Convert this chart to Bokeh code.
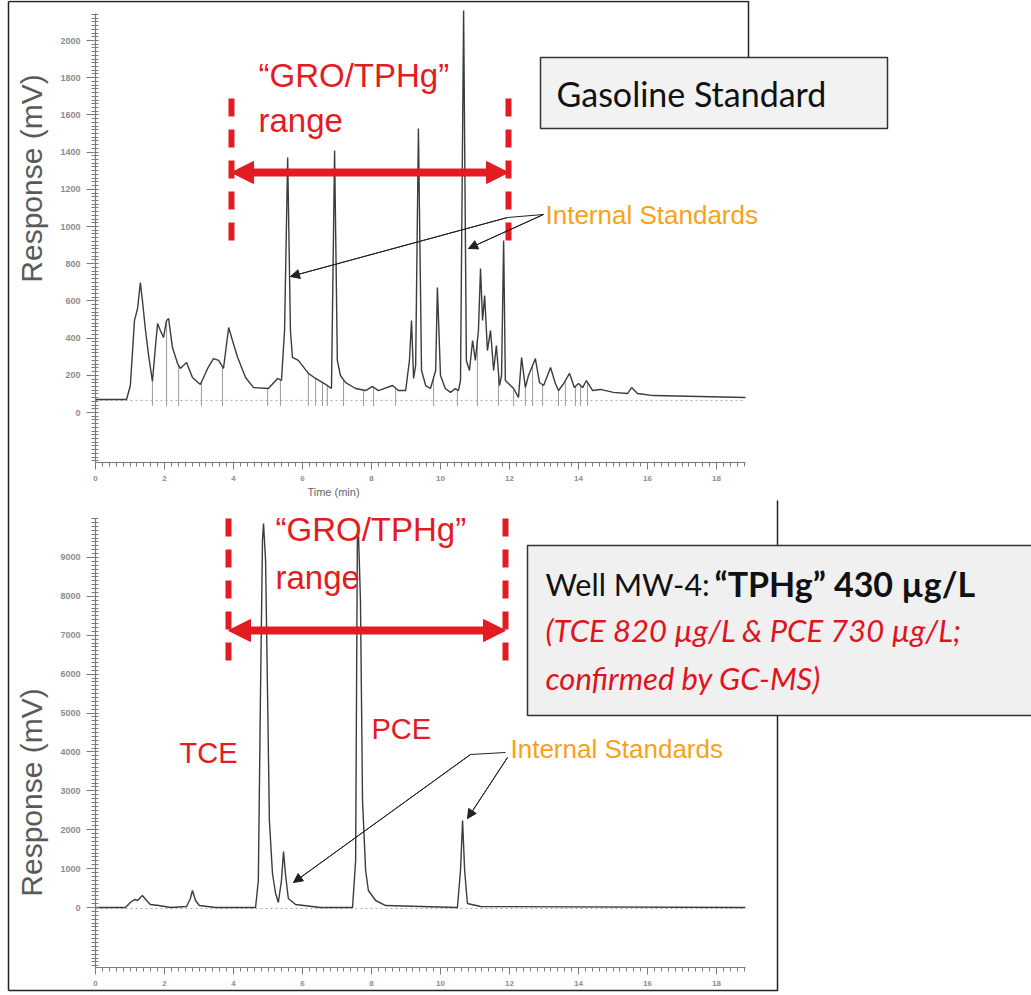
import numpy as np
from bokeh.plotting import figure
from bokeh.models import Range1d, LinearAxis, FixedTicker, Label, Arrow, NormalHead
from bokeh.embed import file_html
from bokeh.resources import INLINE

# ---------------- data ----------------
# Gasoline standard chromatogram: retention time (min) / response (mV)
gas_time = [0.00, 0.90, 1.01, 1.13, 1.22, 1.30, 1.36, 1.45, 1.54, 1.65, 1.74, 1.80, 1.88, 1.97, 2.06, 2.12,
            2.23, 2.38, 2.46, 2.64, 2.81, 3.04, 3.25, 3.42, 3.57, 3.71, 3.86, 3.97, 4.12, 4.35, 4.58, 5.01,
            5.28, 5.39, 5.48, 5.57, 5.65, 5.71, 5.88, 6.17, 6.38, 6.67, 6.84, 6.93, 7.01, 7.10, 7.25, 7.54,
            7.83, 8.03, 8.20, 8.61, 8.78, 8.99, 9.10, 9.16, 9.22, 9.28, 9.36, 9.45, 9.57, 9.71, 9.86, 9.91,
            10.00, 10.14, 10.29, 10.43, 10.52, 10.58, 10.67, 10.75, 10.84, 10.93, 11.01, 11.10, 11.16, 11.22,
            11.28, 11.36, 11.45, 11.54, 11.62, 11.71, 11.77, 11.83, 11.88, 12.12, 12.26, 12.35, 12.46, 12.55,
            12.67, 12.75, 12.87, 12.99, 13.19, 13.33, 13.42, 13.57, 13.74, 13.88, 14.00, 14.12, 14.23, 14.41,
            14.64, 15.01, 15.42, 15.54, 15.71, 16.17, 18.84]
gas_resp = [70, 70, 145, 495, 559, 699, 602, 441, 306, 167, 360, 478, 441, 403, 495, 505,
            349, 263, 237, 269, 188, 151, 237, 290, 280, 237, 457, 387, 296, 188, 134, 129,
            183, 172, 441, 1371, 441, 296, 280, 210, 183, 151, 129, 1409, 280, 199, 161, 129,
            118, 140, 118, 145, 118, 118, 280, 495, 183, 253, 1527, 226, 145, 129, 226, 672,
            199, 129, 108, 129, 118, 172, 2161, 280, 226, 387, 280, 441, 774, 495,
            629, 333, 441, 226, 360, 145, 199, 925, 172, 129, 81, 296, 134, 199,
            253, 290, 161, 145, 242, 156, 118, 156, 210, 134, 156, 134, 172, 118,
            124, 108, 102, 134, 102, 91, 81]
# integration drop lines of the gasoline standard (min)
gas_drop_times = [1.65, 2.06, 2.41, 3.07, 3.68, 4.99, 5.36, 6.17, 6.38, 6.58, 6.72, 7.19, 7.77, 8.06,
                  8.70, 9.80, 10.49, 11.07, 11.68, 12.12, 12.46, 12.67, 12.96, 13.42, 13.62, 13.91,
                  14.06, 14.26]
gas_baseline_mv = 65

# Well MW-4 chromatogram
well_time = [0.00, 0.87, 1.01, 1.13, 1.22, 1.36, 1.48, 1.59, 1.83, 2.17, 2.64, 2.75, 2.81, 2.90, 3.01,
             3.48, 4.64, 4.72, 4.78, 4.84, 4.87, 4.93, 4.99, 5.04, 5.13, 5.22, 5.30, 5.39, 5.45, 5.51,
             5.59, 5.80, 6.52, 7.45, 7.54, 7.59, 7.62, 7.68, 7.74, 7.83, 7.91, 8.12, 8.41, 10.49, 10.58,
             10.64, 10.70, 10.78, 11.16, 18.84]
well_resp = [0, 0, 129, 206, 180, 309, 180, 77, 51, 0, 26, 231, 437, 180, 51,
             0, 0, 694, 5323, 9437, 9874, 8923, 5323, 2237, 874, 360, 129, 694, 1440, 823,
             231, 77, 0, 0, 1209, 9437, 9694, 7894, 2751, 951, 437, 180, 51, 0, 951,
             2237, 951, 103, 26, 0]
well_baseline_mv = -25

gas_y_ticks = [0, 200, 400, 600, 800, 1000, 1200, 1400, 1600, 1800, 2000]
well_y_ticks = [0, 1000, 2000, 3000, 4000, 5000, 6000, 7000, 8000, 9000]
time_ticks = [0, 2, 4, 6, 8, 10, 12, 14, 16, 18]

# ---------------- pixel geometry of the page ----------------
W, H = 1031, 995
X0, PXMIN = 95, 34.5          # x pixel of t=0, pixels per minute
TZ, TS = 412, 0.186           # top panel: y pixel of 0 mV, pixels per mV
BZ, BS = 907, 0.03889         # bottom panel


def tx(px):
    return (px - X0) / PXMIN


def ty(py):
    return (TZ - py) / TS


def by(py):
    return (BZ - py) / BS


RED = "#e31b23"
ORANGE = "#f7a21b"
TRACE = "#3c3c3c"
AX = "#7a7a7a"

p = figure(width=W, height=H, x_range=Range1d(tx(0), tx(W)), y_range=Range1d(ty(H), ty(0)),
           output_backend="svg", toolbar_location=None, x_axis_location=None, y_axis_location=None,
           min_border=0, outline_line_color=None, background_fill_color="white",
           border_fill_color="white")
p.extra_y_ranges = {"bot": Range1d(by(H), by(0))}
p.grid.visible = False

# outer picture frames
p.line([tx(8), tx(8)], [ty(1), ty(990)], line_color="#222", line_width=1.5)
p.line([tx(8), tx(748), tx(748)], [ty(1), ty(1), ty(60)], line_color="#222", line_width=1.5)
p.line([tx(8), tx(777), tx(777)], [by(990), by(990), by(500)], line_color="#222", line_width=1.5,
       y_range_name="bot")


def style_axis(ax, label_size="9px"):
    ax.axis_line_color = AX
    ax.axis_line_width = 1.2
    ax.major_tick_line_color = AX
    ax.minor_tick_line_color = AX
    ax.major_label_text_font_size = label_size
    ax.major_label_text_color = "#8c8c8c"
    ax.major_label_text_font_style = "bold"
    ax.major_label_text_font = "Liberation Sans"


# ---- top panel axes
minor_top = list(np.arange(-260, 2150, 20))
ya = LinearAxis(fixed_location=0, bounds=(ty(462), ty(13)),
                ticker=FixedTicker(ticks=gas_y_ticks, minor_ticks=minor_top))
style_axis(ya)
ya.major_tick_out, ya.major_tick_in = 9, 3
ya.minor_tick_out, ya.minor_tick_in = 4, 3
ya.major_label_standoff = 6
p.add_layout(ya, "left")

minor_x = list(np.round(np.arange(0, 18.9, 0.2), 2))
xa = LinearAxis(fixed_location=ty(462), bounds=(0, tx(745)),
                ticker=FixedTicker(ticks=time_ticks, minor_ticks=minor_x))
style_axis(xa, "8px")
xa.major_tick_out, xa.major_tick_in = 7, 0
xa.minor_tick_out, xa.minor_tick_in = 4, 0
xa.major_label_standoff = 6
p.add_layout(xa, "below")

# ---- bottom panel axes
minor_bot = list(np.arange(-1500, 10050, 100))
yb = LinearAxis(fixed_location=0, y_range_name="bot", bounds=(by(967), by(518)),
                ticker=FixedTicker(ticks=well_y_ticks, minor_ticks=minor_bot))
style_axis(yb)
yb.major_tick_out, yb.major_tick_in = 9, 3
yb.minor_tick_out, yb.minor_tick_in = 4, 3
yb.major_label_standoff = 6
p.add_layout(yb, "left")

xb = LinearAxis(fixed_location=by(967), y_range_name="bot", bounds=(0, tx(745)),
                ticker=FixedTicker(ticks=time_ticks, minor_ticks=minor_x))
style_axis(xb, "8px")
xb.major_tick_out, xb.major_tick_in = 7, 0
xb.minor_tick_out, xb.minor_tick_in = 4, 0
xb.major_label_standoff = 6
p.add_layout(xb, "below")

# ---- dotted baselines
p.line([0, tx(745)], [gas_baseline_mv, gas_baseline_mv], line_color="#a8a8a8", line_dash="2 3", line_width=1)
p.line([0, tx(745)], [well_baseline_mv, well_baseline_mv], line_color="#a8a8a8", line_dash="2 3",
       line_width=1, y_range_name="bot")

# ---- drop lines of the gasoline trace
drop_top = np.interp(gas_drop_times, gas_time, gas_resp)
p.segment(x0=gas_drop_times, y0=[gas_baseline_mv - 30] * len(gas_drop_times), x1=gas_drop_times,
          y1=list(drop_top), line_color="#9a9a9a", line_width=1)

# ---- traces
p.line(gas_time, gas_resp, line_color=TRACE, line_width=1.4)
p.line(well_time, well_resp, line_color=TRACE, line_width=1.4, y_range_name="bot")

# ---- red GRO/TPHg range markings
for (xl, xr, y0, y1, ya_, rng, f) in [(231, 508, 98, 253, 172, "default", ty), (228, 505, 518, 670, 630, "bot", by)]:
    for xx in (xl, xr):
        p.line([tx(xx), tx(xx)], [f(y0), f(y1)], line_color=RED, line_width=6, line_dash="18 13",
               y_range_name=rng)
    p.add_layout(Arrow(start=NormalHead(size=22, fill_color=RED, line_color=RED),
                       end=NormalHead(size=22, fill_color=RED, line_color=RED),
                       x_start=tx(xl), x_end=tx(xr), y_start=f(ya_), y_end=f(ya_),
                       line_color=RED, line_width=8, y_range_name=rng))


def label(x, y, text, size, color, font="Liberation Sans", style="normal", rng="default",
          align="left", angle=0):
    p.add_layout(Label(x=x, y=y, text=text, text_font=font, text_font_size=size, text_color=color,
                       text_font_style=style, y_range_name=rng, text_align=align,
                       text_baseline="middle", angle=angle, angle_units="deg"))


label(tx(258), ty(75), "\u201cGRO/TPHg\u201d", "33px", RED)
label(tx(258), ty(120), "range", "33px", RED)
label(tx(275), by(529), "\u201cGRO/TPHg\u201d", "33px", RED, rng="bot")
label(tx(275), by(577), "range", "33px", RED, rng="bot")
label(tx(179), by(752), "TCE", "29px", RED, rng="bot")
label(tx(371), by(728), "PCE", "29px", RED, rng="bot")

# axis titles
label(tx(31), ty(178), "Response (mV)", "30px", "#5a5a5a", align="center", angle=90)
label(tx(31), by(792), "Response (mV)", "30px", "#5a5a5a", rng="bot", align="center", angle=90)
label(tx(333), ty(491), "Time (min)", "11px", "#666666", align="center")

# internal standard call-outs
label(tx(545), ty(214), "Internal Standards", "26px", ORANGE)
label(tx(510), by(748), "Internal Standards", "26px", ORANGE, rng="bot")


def callout(points, f, rng):
    xs = [tx(a) for a, b in points]
    ys = [f(b) for a, b in points]
    p.line(xs, ys, line_color="#222", line_width=1, y_range_name=rng)
    p.add_layout(Arrow(end=NormalHead(size=9, fill_color="#222", line_color="#222"),
                       x_start=xs[-2], y_start=ys[-2], x_end=xs[-1], y_end=ys[-1],
                       line_color="#222", line_width=1, y_range_name=rng))


callout([(543, 214), (507, 217), (290, 276)], ty, "default")
callout([(543, 214), (468, 248)], ty, "default")
callout([(505, 752), (470, 754), (293, 882)], by, "bot")
callout([(507, 757), (467, 818)], by, "bot")

# ---- text boxes
p.quad(left=[tx(540)], right=[tx(887)], top=[ty(57)], bottom=[ty(128)], fill_color="#f2f2f2",
       line_color="#333333", line_width=1.5)
label(tx(556), ty(93), "Gasoline Standard", "34px", "#111111", font="Lato")

p.quad(left=[tx(527)], right=[tx(1036)], top=[by(545)], bottom=[by(715)], fill_color="#f0f0f0",
       line_color="#333333", line_width=1.5, y_range_name="bot")
label(tx(545), by(583), "Well MW-4:", "30.5px", "#111111", font="Lato", rng="bot")
label(tx(714), by(583), "\u201cTPHg\u201d 430 \u00b5g/L", "34px", "#111111", font="Lato", style="bold", rng="bot")
label(tx(545), by(629), "(TCE 820 \u00b5g/L & PCE 730 \u00b5g/L;", "31px", "#e0141e", font="Lato",
      style="italic", rng="bot")
label(tx(545), by(677), "confirmed by GC-MS)", "31px", "#e0141e", font="Lato", style="italic", rng="bot")

open("out.html", "w").write(file_html(p, INLINE))
